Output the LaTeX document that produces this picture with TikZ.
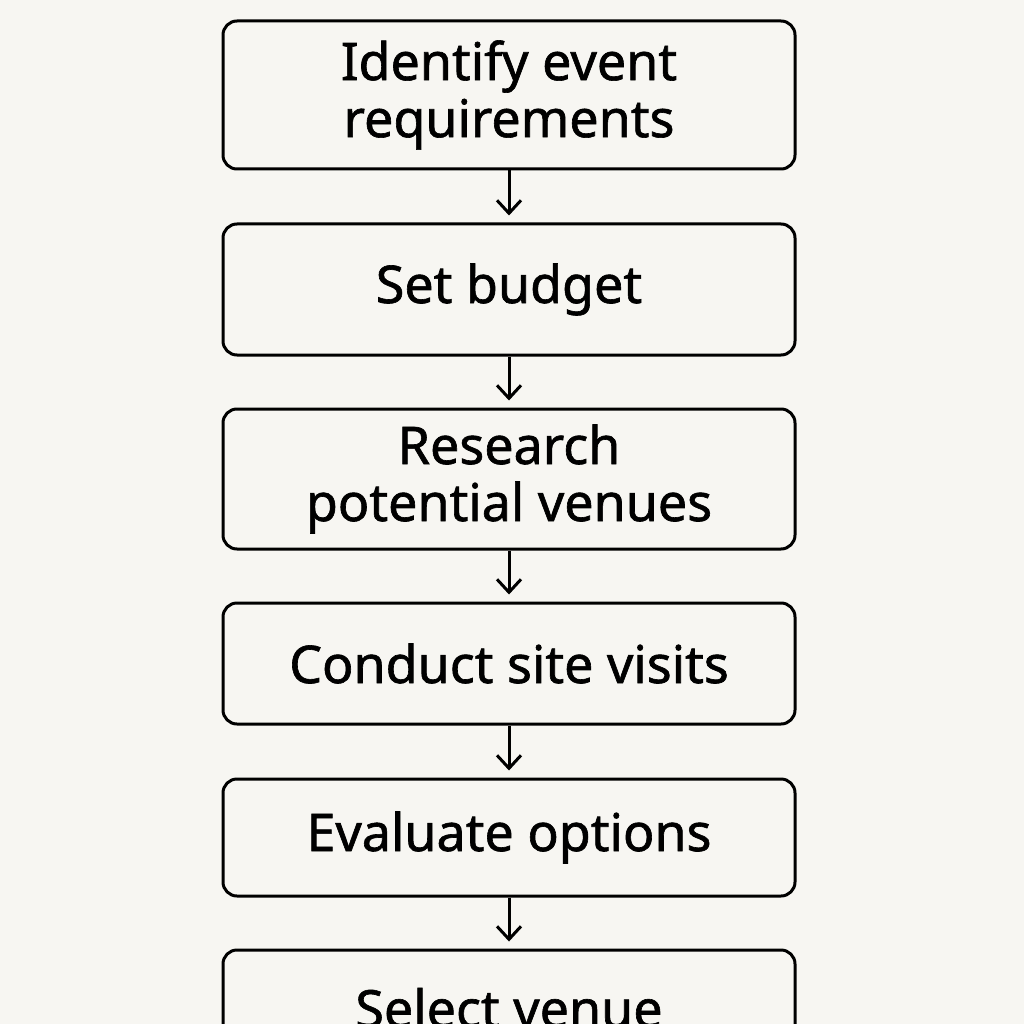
\documentclass[tikz,border=0pt]{standalone}
\usepackage{fontspec}
\setmainfont{Noto Sans}[FakeBold=1.2,AutoFakeBold=1.2]
\usetikzlibrary{arrows.meta}
\definecolor{paper}{HTML}{F7F6F2}
\begin{document}
\begin{tikzpicture}[x=1pt,y=-1pt,line width=3pt,
stepbox/.style={draw,rectangle,rounded corners=14pt,minimum width=572pt,align=center,inner sep=0pt,
  font=\fontsize{52}{57}\selectfont\bfseries},
flow/.style={-{Straight Barb[length=13pt,width=24pt]},shorten >=7pt}]

\clip (0,0) rectangle (1024,1024);
\fill[paper] (0,0) rectangle (1024,1024);

\draw (509,95) node[stepbox,minimum height=148pt] (S1) {Identify event\\requirements};
\draw (509,289.5) node[stepbox,minimum height=131pt] (S2) {Set budget};
\draw (509,479) node[stepbox,minimum height=140pt] (S3) {Research\\potential venues};
\draw (509,663.5) node[stepbox,minimum height=121pt] (S4) {Conduct site visits};
\draw (509,837.5) node[stepbox,minimum height=117pt] (S5) {Evaluate options};
\draw (509,1008) node[stepbox,minimum height=116pt] (S6) {Select venue};

\foreach \a/\b in {S1/S2,S2/S3,S3/S4,S4/S5,S5/S6}
  \draw[flow] (\a.south) -- (\b.north);

\end{tikzpicture}
\end{document}
